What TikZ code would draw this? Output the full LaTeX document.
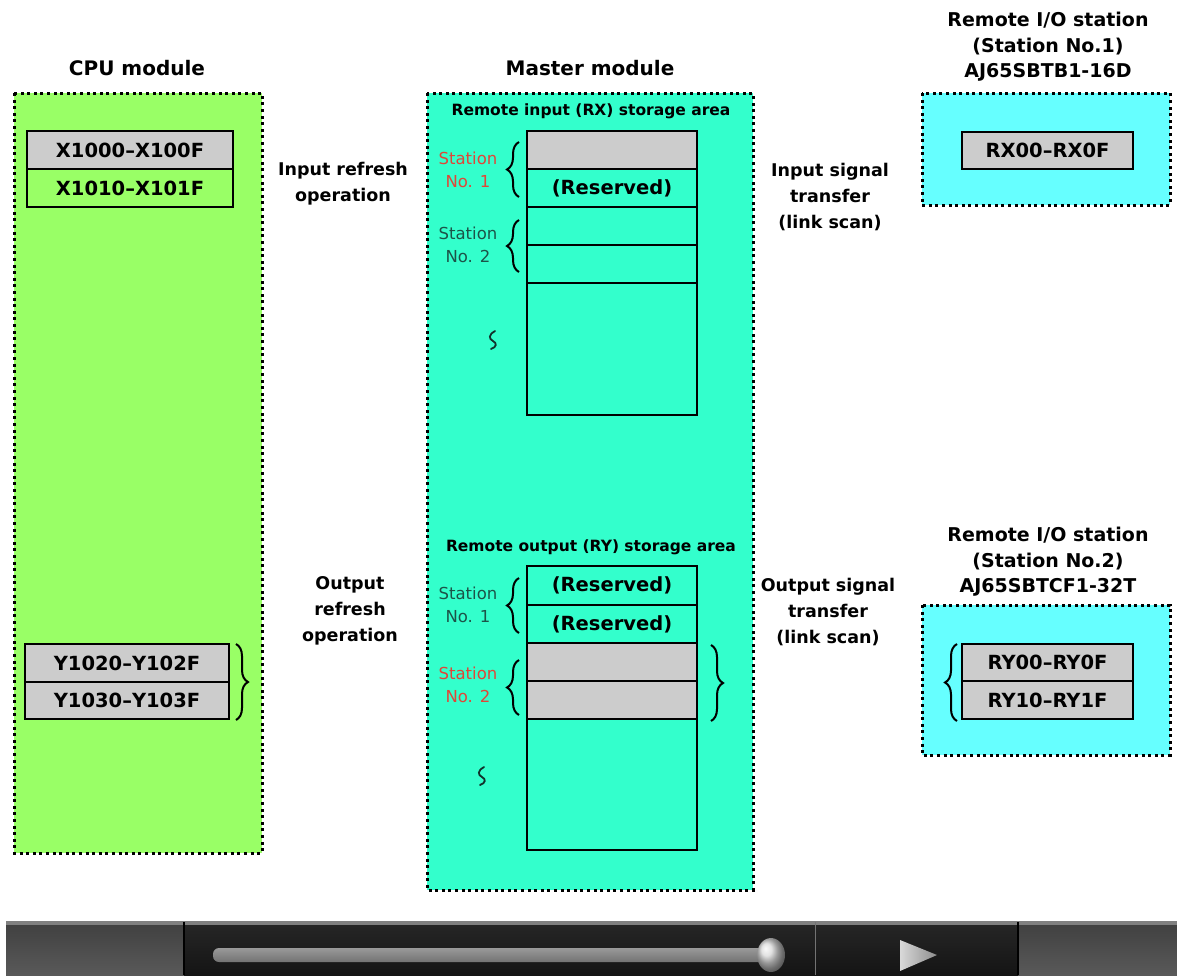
\documentclass[tikz,border=0pt]{standalone}
\usepackage{fontspec}
\setmainfont{DejaVu Sans}
\usetikzlibrary{decorations.pathreplacing,shapes.geometric}
\definecolor{cpugreen}{RGB}{153,255,102}
\definecolor{aqua}{RGB}{51,255,204}
\definecolor{cyanbox}{RGB}{102,255,255}
\definecolor{cellgray}{RGB}{204,204,204}
\definecolor{stred}{RGB}{224,70,56}
\definecolor{stteal}{RGB}{28,84,72}
\tikzset{
  area/.style={draw=black, line width=3pt, dash pattern=on 3pt off 3.6pt},
  cell/.style={draw=black, line width=1.6pt, inner sep=0pt, font=\bfseries\fontsize{19.5}{24}\selectfont},
  gcell/.style={cell, fill=cellgray},
  title/.style={font=\bfseries\fontsize{20}{25.5}\selectfont, align=center, inner sep=0pt},
  rtitle/.style={font=\bfseries\fontsize{19}{25.5}\selectfont, align=center, inner sep=0pt},
  lbl/.style={font=\bfseries\fontsize{17.5}{26}\selectfont, align=center, inner sep=0pt},
  area title/.style={font=\bfseries\fontsize{15.5}{19}\selectfont, inner sep=0pt},
  stlbl/.style={font=\fontsize{16.5}{23}\selectfont, align=center, inner sep=0pt},
  brc/.style={decorate, decoration={brace, amplitude=12pt}, line width=2pt},
  wavy/.style={line width=1.8pt, line cap=round}
}
\begin{document}
\begin{tikzpicture}[x=1pt,y=-1pt]
\useasboundingbox (0,0) rectangle (1177,975);
\fill[white] (0,0) rectangle (1177,975);

% ---------------- CPU module ----------------
\node[title] (cputitle) at (137,68) {CPU module};
\fill[cpugreen] (14,93) rectangle (262,853);
\draw[area] (14,93) rectangle (262,853);
\node[gcell, minimum width=206pt, minimum height=38pt] (x1000) at (130,150) {X1000–X100F};
\node[cell, fill=cpugreen, minimum width=206pt, minimum height=38pt] (x1010) at (130,188) {X1010–X101F};
\node[gcell, minimum width=204pt, minimum height=38pt] (y1020) at (127,663) {Y1020–Y102F};
\node[gcell, minimum width=204pt, minimum height=37pt] (y1030) at (127,700.5) {Y1030–Y103F};
\draw[brc] (236,644) -- (236,720);

% ---------------- middle labels ----------------
\node[lbl] (inref) at (343,184) {Input refresh\\operation};
\node[lbl] (outref) at (350,611) {Output\\refresh\\operation};
\node[lbl] (insig) at (830,197) {Input signal\\transfer\\(link scan)};
\node[lbl] (outsig) at (828,612) {Output signal\\transfer\\(link scan)};

% ---------------- Master module ----------------
\node[title] (mtitle) at (590,68) {Master module};
\fill[aqua] (427,93) rectangle (753,890);
\draw[area] (427,93) rectangle (753,890);
\node[area title] (rxtitle) at (591,111) {Remote input (RX) storage area};
\node[gcell, minimum width=170pt, minimum height=38pt] (rx1) at (612,150) {};
\node[cell, minimum width=170pt, minimum height=38pt] (rx2) at (612,188) {(Reserved)};
\node[cell, minimum width=170pt, minimum height=38pt] (rx3) at (612,226) {};
\node[cell, minimum width=170pt, minimum height=38pt] (rx4) at (612,264) {};
\node[cell, minimum width=170pt, minimum height=132pt] (rx5) at (612,349) {};
\node[stlbl, text=stred] (rxst1) at (468,170) {Station\\No. 1};
\node[stlbl, text=stteal] (rxst2) at (468,245) {Station\\No. 2};
\draw[brc] (519,197) -- (519,142);
\draw[brc] (519,272) -- (519,220);
\draw[wavy, stteal!60!black] (495,331) .. controls (488,335) and (489,339) .. (493,341) .. controls (497,343) and (497,347) .. (491,349);

\node[area title] (rytitle) at (591,547) {Remote output (RY) storage area};
\node[cell, minimum width=170pt, minimum height=39pt] (ry1) at (612,585.5) {(Reserved)};
\node[cell, minimum width=170pt, minimum height=38pt] (ry2) at (612,624) {(Reserved)};
\node[gcell, minimum width=170pt, minimum height=38pt] (ry3) at (612,662) {};
\node[gcell, minimum width=170pt, minimum height=38pt] (ry4) at (612,700) {};
\node[cell, minimum width=170pt, minimum height=131pt] (ry5) at (612,784.5) {};
\node[stlbl, text=stteal] (ryst1) at (468,605) {Station\\No. 1};
\node[stlbl, text=stred] (ryst2) at (468,685) {Station\\No. 2};
\draw[brc] (519,633) -- (519,578);
\draw[brc] (519,715) -- (519,660);
\draw[brc] (711,645) -- (711,721);
\draw[wavy, stteal!60!black] (484,767) .. controls (477,771) and (478,775) .. (482,777) .. controls (486,779) and (486,783) .. (480,785);

% ---------------- Remote I/O station 1 ----------------
\node[rtitle] (r1title) at (1048,47) {Remote I/O station\\(Station No.1)\\AJ65SBTB1-16D};
\fill[cyanbox] (922,93) rectangle (1170,205);
\draw[area] (922,93) rectangle (1170,205);
\node[gcell, minimum width=171pt, minimum height=37pt] (rx00) at (1047.5,150.5) {RX00–RX0F};

% ---------------- Remote I/O station 2 ----------------
\node[rtitle] (r2title) at (1048,562) {Remote I/O station\\(Station No.2)\\AJ65SBTCF1-32T};
\fill[cyanbox] (922,605) rectangle (1170,755);
\draw[area] (922,605) rectangle (1170,755);
\node[gcell, minimum width=171pt, minimum height=37pt] (ry00) at (1047.5,662.5) {RY00–RY0F};
\node[gcell, minimum width=171pt, minimum height=38pt] (ry10) at (1047.5,700) {RY10–RY1F};
\draw[brc] (957,721) -- (957,644);

% ---------------- bottom player bar ----------------
\shade[top color=black!75, bottom color=black!65] (6,922) rectangle (184,975);
\shade[top color=black!75, bottom color=black!65] (1018,922) rectangle (1177,975);
\shade[top color=black!85, middle color=black, bottom color=black!92] (184,922) rectangle (1018,975);
\fill[black!50] (6,921) rectangle (1177,925);
\draw[black, line width=1.2pt] (184,922) -- (184,975);
\draw[black!55, line width=1pt] (815,922) -- (815,975);
\draw[black, line width=1.2pt] (1018,922) -- (1018,975);
\shade[top color=black!40, bottom color=black!55, rounded corners=6pt] (213,948) rectangle (775,962);
\shade[ball color=white!85!black] (771,955) ellipse [x radius=14pt, y radius=17pt];
\shade[left color=white!85!black, right color=black!45] (900,940) -- (937,955) -- (900,971) -- cycle;
\end{tikzpicture}
\end{document}
